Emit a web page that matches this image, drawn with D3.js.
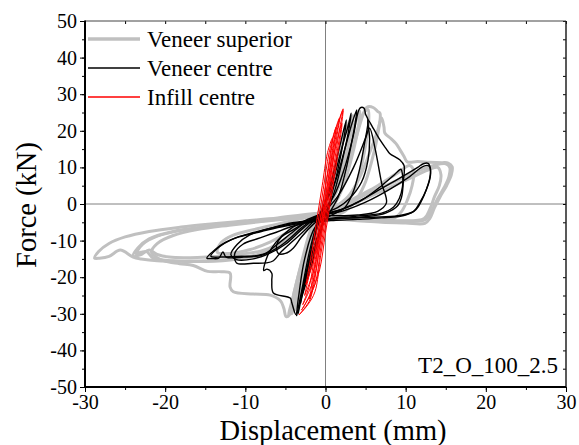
<!DOCTYPE html>
<html>
<head>
<meta charset="utf-8">
<script src="https://cdn.jsdelivr.net/npm/d3@7"></script>
<style>
  body { margin: 0; background: #fff; }
  text { font-family: "Liberation Serif", "Times New Roman", serif; fill: #000; }
  .axis text { font-size: 20px; }
  .axis line { stroke: #000; }
  .axis path { display: none; }
</style>
</head>
<body>
<div id="chart"></div>
<script>
// hysteresis loops, [displacement mm, force kN]
var veneerSuperior = [
  [[-1,-3],[0.4,4],[1.6,13],[2.7,21],[3.4,24.2],[3.1,19],[2.3,11],[1.4,4],[0.4,-1],[-0.8,-8],[-2,-17],[-3.1,-25],[-3.8,-29],[-3.2,-23],[-2.2,-13],[-1,-3]],
  [[-1.2,-3.5],[0.7,3],[2.2,12],[3.5,21],[4.3,25.3],[4.1,21],[3.3,13],[2.4,6],[1.4,1],[0,-3],[-1.2,-9],[-2.4,-17],[-3.5,-25],[-4.2,-30],[-3.6,-24],[-2.5,-14],[-1.2,-3.5]],
  [[-1.2,-3.5],[0.8,1],[2.4,9],[3.8,18],[4.7,24.5],[5.2,26.5],[6,26.3],[6.5,25.3],[6.8,24.8],[6.6,20],[5.8,12],[4.8,5],[3.6,0.5],[2,-2.5],[0,-3.5],[-1.5,-7],[-2.8,-15],[-3.9,-24],[-4.5,-30.3],[-4.9,-30.8],[-5.2,-28.5],[-5.6,-26.5],[-6.9,-24.9],[-9,-24.6],[-11.5,-24],[-11.9,-22.7],[-11.9,-18.9],[-13,-18.5],[-14.7,-18.4],[-16.5,-16.8],[-18.2,-16.3],[-20.2,-15.5],[-21.7,-13.2],[-21,-10.8],[-19,-8.6],[-16,-7],[-12,-5.8],[-8,-4.8],[-4,-4],[-1.2,-3.5]],
  [[-1,-3],[1,-1],[2.8,2],[4.2,7],[5.5,14],[6.5,20],[7,23.5],[7.3,21],[7.4,19.4],[8.2,17.8],[8.8,16.5],[9.3,14.8],[9.8,13],[10.2,11.5],[11.5,11.6],[13,11.4],[14.5,11.3],[15.3,11.2],[15.8,10.2],[15.7,8],[15.1,5],[14.3,2],[13.6,-1],[13,-4],[12.4,-5.3],[10,-5.2],[7,-5],[4,-4.6],[1,-4.2],[-2,-5.5],[-4,-8.5],[-6,-11.5],[-8,-13.5],[-11,-15],[-15,-15.7],[-19,-15.5],[-21.5,-14.8],[-22.3,-13],[-23,-13.2],[-23.6,-13.6],[-22.8,-11],[-21,-8.8],[-18,-7.2],[-14,-6],[-10,-5],[-6,-4.2],[-3,-3.6],[-1,-3]],
  [[-1,-2.5],[2,-0.5],[5,2.5],[8,5.5],[11,8.5],[13.5,10.5],[15,11],[15.5,10],[15.4,7.5],[14.8,4.5],[14,1.5],[13.2,-2],[12.5,-4.2],[10,-4.8],[6,-4.6],[2,-4.2],[-1,-4.5],[-3,-7],[-5,-10.5],[-7,-13],[-9,-14.3],[-13,-15.3],[-17,-15.6],[-21,-15.5],[-23,-15],[-24,-14.5],[-25.6,-12.6],[-27,-14.3],[-28.2,-14.8],[-28.8,-14.8],[-28.3,-13],[-27,-10.8],[-25,-9],[-22,-7.5],[-18,-6.3],[-14,-5.4],[-10,-4.6],[-6,-3.8],[-3,-3],[-1,-2.5]],
  [[-1,-2.8],[2,-1],[5,1.5],[8,4.5],[11,7.5],[13,9.5],[14,10],[14.4,8],[14.2,5],[13.6,2],[13,-1.5],[12.3,-4],[9,-4.6],[5,-4.3],[1,-4],[-2,-5],[-4,-8],[-6,-11],[-8,-12.8],[-12,-14],[-16,-14.6],[-19.5,-14.5],[-21,-13.8],[-22,-12.6],[-23,-13.8],[-24,-14.2],[-23.4,-12],[-22,-9.5],[-19,-7.5],[-15,-6.3],[-11,-5.3],[-6,-4.2],[-3,-3.3],[-1,-2.8]],
  [[-1,-3],[1.5,-1],[4,2],[6.5,5],[9,8.5],[10.5,10.5],[11,9],[10.8,5],[10.2,1],[9.5,-2],[8.5,-4],[5,-4.3],[1,-4],[-2,-4.8],[-4.5,-7.5],[-7,-10.5],[-9.5,-12.5],[-12,-13.5],[-13.5,-13.2],[-13,-10.5],[-11.5,-8.5],[-9,-7],[-6,-5.5],[-3,-4],[-1,-3]],
  [[-1,-3],[0.8,2],[2.5,10],[3.8,19],[4.8,25],[5.3,25.8],[5.4,23],[5,16],[4.2,8],[3.2,2],[1.5,-1.5],[0,-3],[-1.4,-8],[-2.7,-16],[-3.8,-24],[-4.4,-29.5],[-4.6,-30.3],[-4,-25],[-3,-16],[-2,-8],[-1,-3]]
];

var veneerCentre = [
  [[-0.6,-3],[0.7,6],[1.8,16],[2.6,23],[2.3,18],[1.5,9],[0.7,2],[0,-3],[-0.9,-10],[-1.9,-18],[-2.9,-25],[-3.1,-27],[-2.5,-20],[-1.5,-10],[-0.6,-3]],
  [[-0.6,-3],[0.9,6],[2,15],[2.9,22],[3.2,24.8],[2.8,19],[2,11],[1.2,4],[0.4,-1],[-0.6,-7],[-1.7,-15],[-2.7,-23],[-3.3,-28.5],[-3.4,-30],[-2.7,-22],[-1.6,-11],[-0.6,-3]],
  [[-0.8,-3],[1.2,6],[2.4,15],[3.3,22],[3.9,25.7],[3.7,22],[3.1,15],[2.4,8],[1.6,2],[0.6,-2],[-0.5,-6],[-1.6,-13],[-2.6,-21],[-3.3,-27.5],[-3.6,-30.5],[-3,-24],[-2,-13],[-0.8,-3]],
  [[-0.8,-3],[1,2],[2.4,10],[3.5,19],[4.3,26.2],[4.8,26.2],[5,24.5],[5.3,23],[4.9,17],[4.2,9],[3.4,3],[2.4,-1],[0.8,-3],[-1.2,-6],[-2.6,-15],[-3.4,-26],[-3.7,-30.2],[-4.2,-27],[-4.4,-25.7],[-6.5,-24.3],[-6.7,-21],[-6.7,-18.9],[-7.3,-17.8],[-7.7,-18.2],[-7.2,-14],[-6.2,-10.5],[-4.5,-7],[-2.5,-4.5],[-0.8,-3]],
  [[-0.8,-3],[1.5,-1],[3,1.5],[4.5,6],[5.3,12],[5.5,18],[5.3,23],[6,20.5],[6.8,17.5],[7.6,15],[8,13.8],[9.3,12],[9.8,10.5],[9.7,6],[9.5,2],[9,-0.5],[7.5,-2.5],[5,-3.5],[2,-4],[-1,-4.5],[-4,-6],[-6.5,-8],[-8.5,-9.5],[-10.3,-11],[-11.3,-13.4],[-11.1,-16.1],[-9,-16.2],[-7.4,-16.1],[-6.5,-15.5],[-5.5,-13],[-4,-10],[-2.5,-7],[-0.8,-3]],
  [[-0.8,-3],[2,-1.5],[4,0.5],[6,3],[8,5.5],[10,8],[11.5,10],[12.2,11],[12.8,11.1],[13.1,9.5],[13,7],[12.5,3.5],[12,1],[11.3,-1.5],[10,-3],[7,-3.8],[4,-4.2],[1,-4.5],[-2,-5],[-5,-6],[-8,-7.5],[-10.8,-9],[-12.5,-10.5],[-13.8,-12.5],[-14.8,-14.8],[-14.2,-14.9],[-13.3,-14.8],[-12.8,-13.1],[-12.4,-14.5],[-10.2,-14.5],[-8,-14],[-6,-12],[-4.5,-9.5],[-3,-6.5],[-0.8,-3]],
  [[-0.8,-3],[2,-2],[5,0.5],[8,4],[10.5,7.5],[12.2,10.3],[12.9,10.4],[13.1,8],[12.6,4],[11.8,0.5],[11,-2],[9,-3.2],[6,-3.6],[3,-3.8],[0,-4.2],[-3,-5],[-6,-6.2],[-9,-7.8],[-11.5,-9.5],[-13.3,-11.8],[-14.3,-14.3],[-13,-14.5],[-11,-14.3],[-9,-14.2],[-7.5,-13.5],[-6,-11],[-4,-7.5],[-2.5,-5],[-0.8,-3]],
  [[-0.8,-3],[2,-1.5],[4.5,1],[7,5],[8.6,8],[9.4,9.5],[9.6,8],[9.6,4.7],[9.2,1.5],[8.5,-0.8],[7,-2.5],[4,-3.3],[1,-3.8],[-2,-4.5],[-5,-5.5],[-7.5,-7],[-9.5,-8.5],[-11,-11],[-11.8,-13.8],[-11.1,-15.2],[-9,-15],[-7,-13.5],[-5,-11],[-3,-7],[-0.8,-3]],
  [[0,-3],[-2,-4.5],[-4,-7],[-5.5,-9],[-6.1,-11.2],[-5.9,-13.5],[-5,-13.5],[-4,-12],[-3,-9],[-1.5,-5.5],[0,-3]],
  [[-0.5,-3],[1.5,2],[3.5,10],[5,18],[5.5,20.7],[6.2,15],[7,5.7],[7.6,0.3],[6.5,-2],[4,-3],[1,-3.2],[-0.5,-3]]
];

var infillCentre = [
  [[-2.45,-22],[-1.42,-15],[-0.69,-5],[0.03,5],[0.69,14],[0.86,18],[0.25,14],[-0.41,5],[-1.13,-5],[-1.86,-15],[-2.45,-22]],
  [[-2.61,-25],[-1.44,-18],[-0.71,-8],[0.02,2],[0.74,12],[1.32,21],[0.45,14],[-0.28,4],[-1,-6],[-1.73,-16],[-2.61,-25]],
  [[-2.84,-27.5],[-1.38,-20],[-0.66,-10],[0.07,0],[0.8,10],[1.38,18],[1.75,23.5],[0.94,18],[0.21,8],[-0.52,-2],[-1.24,-12],[-1.97,-22],[-2.84,-27.5]],
  [[-3,-29],[-1.33,-22],[-0.6,-12],[0.27,0],[1,10],[1.72,20],[2.15,25.5],[1.28,20],[0.56,10],[-0.17,0],[-0.9,-10],[-1.62,-20],[-1.98,-25],[-3,-29]],
  [[-3.3,-30.3],[-2.2,-27.5],[-1.32,-24],[-0.6,-14],[0.13,-4],[0.86,6],[1.58,16],[2.02,22],[2.2,26],[1.43,20],[0.71,10],[-0.02,0],[-0.75,-10],[-1.47,-20],[-1.9,-26],[-3.3,-30.3]],
  [[-2.04,-26],[-0.74,-18],[-0.01,-8],[0.72,2],[1.44,12],[2.05,22],[1.29,16],[0.57,6],[-0.16,-4],[-0.89,-14],[-1.47,-22],[-2.04,-26]]
];

var xTicks = [-30, -20, -10, 0, 10, 20, 30];
var yTicks = [-50, -40, -30, -20, -10, 0, 10, 20, 30, 40, 50];
var xMinor = d3.range(-30, 31, 5);
var yMinor = d3.range(-50, 51, 5);
var seriesNames = ["Veneer superior", "Veneer centre", "Infill centre"];
var seriesColors = ["#c0c0c0", "#000000", "#ff0000"];
var seriesWidths = [3, 1.4, 1];
var specimen = "T2_O_100_2.5";

var W = 579, H = 445;
var x = d3.scaleLinear().domain([-30, 30]).range([85, 566]);
var y = d3.scaleLinear().domain([-50, 50]).range([387, 21]);

var svg = d3.select("#chart").append("svg")
  .attr("width", W)
  .attr("height", H);

// zero lines
svg.append("line")
  .attr("x1", x(-30)).attr("x2", x(30))
  .attr("y1", y(0)).attr("y2", y(0))
  .attr("stroke", "#808080").attr("stroke-width", 1);
svg.append("line")
  .attr("x1", x(0)).attr("x2", x(0))
  .attr("y1", y(-50)).attr("y2", y(50))
  .attr("stroke", "#808080").attr("stroke-width", 1);

var line = d3.line()
  .x(function(d) { return x(d[0]); })
  .y(function(d) { return y(d[1]); })
  .curve(d3.curveCatmullRom.alpha(0.5));

[veneerSuperior, veneerCentre, infillCentre].forEach(function(loops, i) {
  svg.append("g").selectAll("path")
    .data(loops)
    .enter().append("path")
    .attr("d", line)
    .attr("fill", "none")
    .attr("stroke", seriesColors[i])
    .attr("stroke-width", seriesWidths[i])
    .attr("stroke-linejoin", "round");
});

var fmt = function(d) { return String(d); };

// outer ticks left / bottom
svg.append("g").attr("class", "axis")
  .attr("transform", "translate(" + x(-30) + ",0)")
  .call(d3.axisLeft(y).tickValues(yMinor).tickSize(3).tickFormat(""));
svg.append("g").attr("class", "axis")
  .attr("transform", "translate(" + x(-30) + ",0)")
  .call(d3.axisLeft(y).tickValues(yTicks).tickSize(5).tickPadding(3).tickFormat(fmt));
svg.append("g").attr("class", "axis")
  .attr("transform", "translate(0," + y(-50) + ")")
  .call(d3.axisBottom(x).tickValues(xMinor).tickSize(3).tickFormat(""));
svg.append("g").attr("class", "axis")
  .attr("transform", "translate(0," + y(-50) + ")")
  .call(d3.axisBottom(x).tickValues(xTicks).tickSize(5).tickPadding(3).tickFormat(fmt));

// inner ticks top / right
svg.append("g").attr("class", "axis")
  .attr("transform", "translate(0," + y(50) + ")")
  .call(d3.axisBottom(x).tickValues(xMinor).tickSize(3).tickFormat(""));
svg.append("g").attr("class", "axis")
  .attr("transform", "translate(" + x(30) + ",0)")
  .call(d3.axisLeft(y).tickValues(yMinor).tickSize(3).tickFormat(""));

// frame
svg.append("line").attr("x1", x(-30)).attr("x2", x(30)).attr("y1", y(50)).attr("y2", y(50))
  .attr("stroke", "#444").attr("stroke-width", 1);
svg.append("line").attr("x1", x(30)).attr("x2", x(30)).attr("y1", y(50)).attr("y2", y(-50))
  .attr("stroke", "#222").attr("stroke-width", 1.5);
svg.append("line").attr("x1", x(-30)).attr("x2", x(-30)).attr("y1", y(50) - 0.5).attr("y2", y(-50) + 1)
  .attr("stroke", "#000").attr("stroke-width", 2);
svg.append("line").attr("x1", x(-30) - 1).attr("x2", x(30)).attr("y1", y(-50)).attr("y2", y(-50))
  .attr("stroke", "#000").attr("stroke-width", 2);

// axis titles
svg.append("text")
  .attr("x", 333)
  .attr("y", 440)
  .attr("text-anchor", "middle")
  .style("font-size", "28.5px")
  .text("Displacement (mm)");
svg.append("text")
  .attr("transform", "translate(36," + (y(0) + 1) + ") rotate(-90)")
  .attr("text-anchor", "middle")
  .style("font-size", "28.5px")
  .text("Force (kN)");

// legend
var legend = svg.selectAll(".legend")
  .data(seriesNames)
  .enter().append("g")
  .attr("class", "legend")
  .attr("transform", function(d, i) { return "translate(0," + (39 + i * 29) + ")"; });
legend.append("line")
  .attr("x1", 88).attr("x2", 140)
  .attr("stroke", function(d, i) { return seriesColors[i]; })
  .attr("stroke-width", function(d, i) { return seriesWidths[i] + (i === 0 ? 0.5 : 0.3); });
legend.append("text")
  .attr("x", 147).attr("y", 7.5)
  .style("font-size", "23px")
  .text(function(d) { return d; });

svg.append("text")
  .attr("x", 558).attr("y", 373)
  .attr("text-anchor", "end")
  .style("font-size", "23px")
  .text(specimen);
</script>
</body>
</html>
